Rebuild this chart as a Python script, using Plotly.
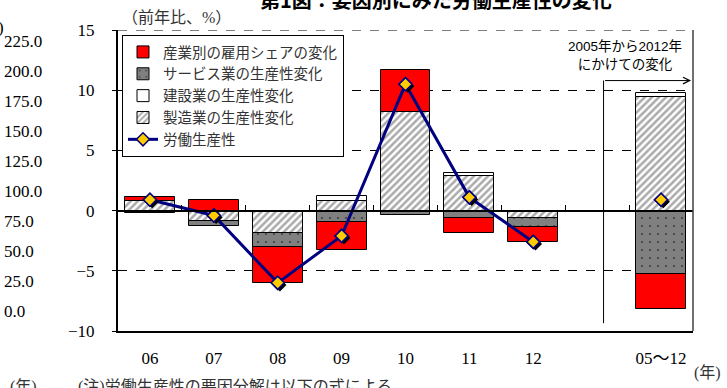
import plotly.graph_objects as go

# 年別カテゴリ(最後は2005→2012年の累積)
categories = ["06", "07", "08", "09", "10", "11", "12", "05～12"]

# 要因別寄与(前年比、%)
manufacturing = [0.77, -0.83, -1.85, 0.80, 8.15, 2.90, -0.60, 9.47]   # 製造業の生産性変化
construction = [0.00, 0.00, 0.00, 0.39, 0.00, 0.20, 0.00, 0.28]       # 建設業の生産性変化
services = [-0.22, -0.44, -1.19, -0.91, -0.36, -0.60, -0.73, -5.25]   # サービス業の生産性変化
employment_share = [0.39, 0.88, -2.95, -2.40, 3.50, -1.25, -1.27, -2.90]  # 産業別の雇用シェアの変化
productivity = [0.9, -0.4, -6.0, -2.1, 10.5, 1.1, -2.6, 0.9]          # 労働生産性

# 隣接図の目盛(左端に一部だけ見えている)
side_ticks = ["225.0", "200.0", "175.0", "150.0", "125.0", "100.0", "75.0", "50.0", "25.0", "0.0"]

# x 位置: 12年と05～12の間に1枠空ける
xpos = list(range(7)) + [8]

W, H = 727, 388
ML, MR, MT, MB = 118, 34, 30, 57
PW, PH = W - ML - MR, H - MT - MB


def px_x(px):
    return (px - ML) / PW


def px_y(py):
    return (H - MB - py) / PH


SERIF = "Liberation Serif, Noto Sans CJK JP"
JP = "Noto Sans CJK JP"

fig = go.Figure()

line_y = productivity[:7] + [None, productivity[7]]
line_x = list(range(7)) + [7, 8]

bar_common = dict(width=0.78, x=xpos)
fig.add_trace(go.Bar(
    name="製造業の生産性変化", y=manufacturing, legendrank=4,
    marker=dict(color="white", line=dict(color="black", width=1),
                pattern=dict(shape="/", size=5, solidity=0.5, fgcolor="#555555", bgcolor="white")),
    **bar_common))
fig.add_trace(go.Bar(
    name="建設業の生産性変化", y=construction, legendrank=3,
    marker=dict(color="white", line=dict(color="black", width=1)),
    **bar_common))
fig.add_trace(go.Bar(
    name="サービス業の生産性変化", y=services, legendrank=2,
    marker=dict(color="#808080", line=dict(color="black", width=1),
                pattern=dict(shape=".", size=8, solidity=0.06, fgcolor="black", bgcolor="#808080")),
    **bar_common))
fig.add_trace(go.Bar(
    name="産業別の雇用シェアの変化", y=employment_share, legendrank=1,
    marker=dict(color="#ff0000", line=dict(color="black", width=1)),
    **bar_common))

fig.add_trace(go.Scatter(
    name="労働生産性", x=line_x, y=line_y, mode="lines+markers", connectgaps=False,
    legendrank=5,
    line=dict(color="#000080", width=3),
    marker=dict(symbol="diamond", size=10, color="#ffcc00", line=dict(color="#000080", width=1.5)),
))
# マーカーの影
fig.add_trace(go.Scatter(
    x=[x + 0.035 for x in xpos], y=[v - 0.17 for v in productivity], mode="markers",
    showlegend=False, hoverinfo="skip",
    marker=dict(symbol="diamond", size=10, color="black"),
))
fig.add_trace(go.Scatter(
    x=xpos, y=productivity, mode="markers", showlegend=False, hoverinfo="skip",
    marker=dict(symbol="diamond", size=10, color="#ffcc00", line=dict(color="#000080", width=1.5)),
))

# ゼロ線上の目盛用(空のトレース)
fig.add_trace(go.Scatter(x=[0], y=[0], xaxis="x2", mode="markers", showlegend=False,
                         hoverinfo="skip", marker=dict(opacity=0)))

fig.update_layout(
    width=W, height=H,
    margin=dict(l=ML, r=MR, t=MT, b=MB),
    paper_bgcolor="white", plot_bgcolor="white",
    barmode="relative", bargap=0,
    showlegend=True,
    legend=dict(x=px_x(122), y=px_y(35), xanchor="left", yanchor="top",
                bordercolor="black", borderwidth=1, bgcolor="white",
                font=dict(family=SERIF, size=14.5, color="#333333"),
                tracegroupgap=0, itemwidth=30),
    xaxis=dict(range=[-0.5, 8.5], tickvals=xpos, ticktext=categories,
               showline=True, linecolor="black", linewidth=2, ticks="",
               showgrid=False, zeroline=False,
               tickfont=dict(family=SERIF, size=17, color="black"),
               ticklabelstandoff=11),
    xaxis2=dict(overlaying="x", anchor="free", position=10 / 25, side="bottom",
                range=[-0.5, 8.5], tickvals=[i + 0.5 for i in range(8)],
                ticks="inside", ticklen=5, tickcolor="black", tickwidth=1,
                showline=True, linecolor="black", linewidth=1.5,
                showticklabels=False, showgrid=False, zeroline=False),
    yaxis=dict(range=[-10, 15], dtick=5, showline=True, linecolor="black", linewidth=2,
               ticks="outside", ticklen=4, tickcolor="black",
               showgrid=True, gridcolor="black", gridwidth=1, griddash="dash",
               zeroline=False,
               tickfont=dict(family=SERIF, size=17, color="black"),
               ticklabelstandoff=14),
)

shapes = [
    # 上端の破線
    dict(type="line", xref="paper", yref="y", x0=0, x1=1, y0=15, y1=15,
         line=dict(color="black", width=1, dash="dash")),
    # 右枠
    dict(type="line", xref="paper", yref="paper", x0=1, x1=1, y0=0, y1=1,
         line=dict(color="#404040", width=1.5)),
    # 区切り線
    dict(type="line", xref="x", yref="y", x0=7.1, x1=7.1, y0=-9.35, y1=10.8,
         line=dict(color="black", width=1)),
]
fig.update_layout(shapes=shapes)


def label(px, py, text, size, family=SERIF, color="#333333", xanchor="center"):
    return dict(x=px_x(px), y=px_y(py), xref="paper", yref="paper", showarrow=False,
                xanchor=xanchor, yanchor="middle", text=text,
                font=dict(family=family, size=size, color=color))


annotations = [
    dict(x=8.47, y=10.8, ax=7.1, ay=10.8, xref="x", yref="y", axref="x", ayref="y",
         text="", showarrow=True, arrowhead=5, arrowsize=1.3, arrowwidth=1, arrowcolor="black"),
    dict(label(625, 55, "2005年から2012年<br>にかけての変化", 13.5,
               family="Liberation Sans, " + JP, color="black"), align="center"),
    label(436, -1, "<b>第1図：要因別にみた労働生産性の変化</b>", 20, family=JP, color="black"),
    label(176, 17, "（前年比、%）", 16),
    label(692, 373, "(年)", 16, xanchor="left"),
    label(8, 387, "(年)", 16, xanchor="left"),
    label(76, 387, "(注)労働生産性の要因分解は以下の式による", 16, xanchor="left"),
    label(6, 27, ")", 17, color="black", xanchor="right"),
]
for i, t in enumerate(side_ticks):
    annotations.append(label(2, 311.7 - 30 * (len(side_ticks) - 1 - i), t, 17,
                             color="black", xanchor="left"))
fig.update_layout(annotations=annotations)

fig.write_html("out.html")
